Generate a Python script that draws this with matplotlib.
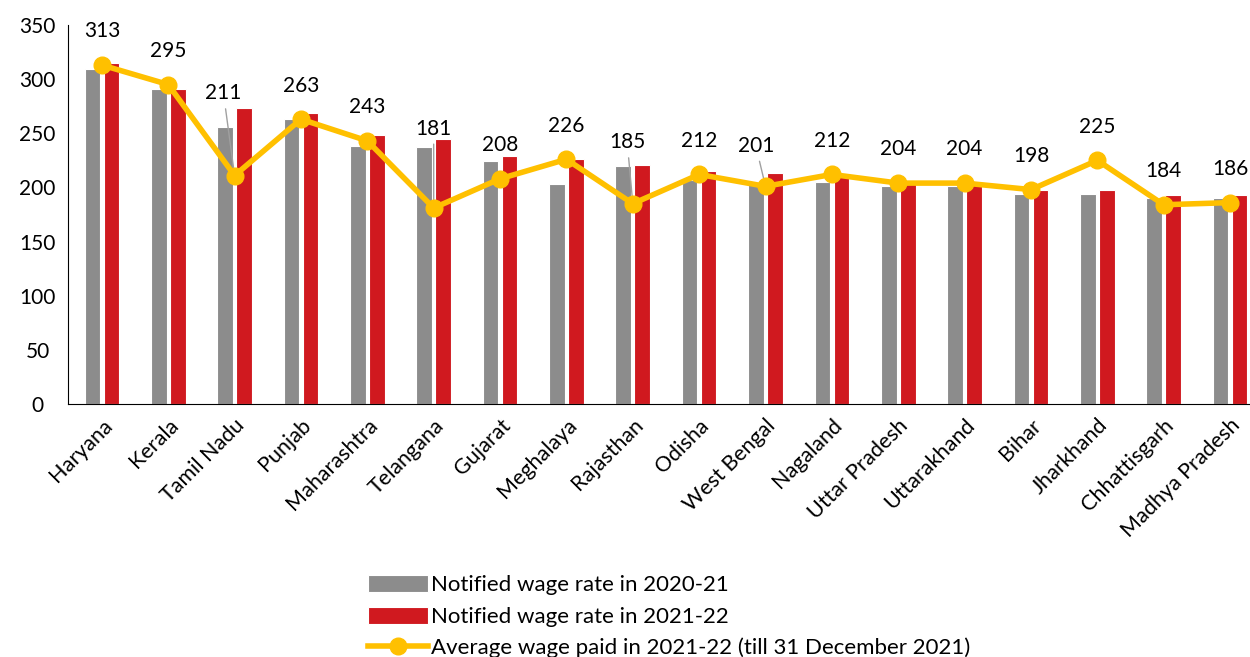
import matplotlib
matplotlib.use('Agg')
import matplotlib.pyplot as plt
import numpy as np

plt.rcParams['font.family'] = ['Lato', 'DejaVu Sans']

# Data
states = ['Haryana', 'Kerala', 'Tamil Nadu', 'Punjab', 'Maharashtra', 'Telangana',
          'Gujarat', 'Meghalaya', 'Rajasthan', 'Odisha', 'West Bengal', 'Nagaland',
          'Uttar Pradesh', 'Uttarakhand', 'Bihar', 'Jharkhand', 'Chhattisgarh',
          'Madhya Pradesh']
rate_2020_21 = [309, 291, 256, 263, 238, 237, 224, 203, 220, 207, 204, 205, 201, 201,
                194, 194, 190, 190]
rate_2021_22 = [315, 291, 273, 269, 248, 245, 229, 226, 221, 215, 213, 212, 204, 204,
                198, 198, 193, 193]
avg_paid = [313, 295, 211, 263, 243, 181, 208, 226, 185, 212, 201, 212, 204, 204,
            198, 225, 184, 186]

# label offsets in points (style); leader lines where labels sit higher
label_dy = [17, 17, 52, 17, 17, 50, 17, 17, 37, 17, 22, 17, 17, 17, 17, 17, 17, 17]
label_dx = [0, 0, -8, 0, 0, 0, 0, 0, -4, 0, -7, 0, 0, 0, 0, 0, 0, 0]
leader = {'Tamil Nadu', 'Telangana', 'Rajasthan', 'West Bengal'}

GRAY = '#8C8C8C'
RED = '#D0191F'
GOLD = '#FFC000'

fig = plt.figure(figsize=(12.5, 6.57), dpi=100)
ax = fig.add_axes([0.0544, 0.385, 0.9456, 0.577])

x = np.arange(len(states))
w = 0.235
b1 = ax.bar(x - 0.143, rate_2020_21, w, color=GRAY, edgecolor='white', linewidth=0.8,
            label='Notified wage rate in 2020-21')
b2 = ax.bar(x + 0.143, rate_2021_22, w, color=RED, edgecolor='white', linewidth=0.8,
            label='Notified wage rate in 2021-22')
ln, = ax.plot(x, avg_paid, color=GOLD, linewidth=4, marker='o', markersize=12,
              label='Average wage paid in 2021-22 (till 31 December 2021)', zorder=4)

for i, (s, v) in enumerate(zip(states, avg_paid)):
    if s in leader:
        ax.annotate(str(v), xy=(i, v), xytext=(label_dx[i], label_dy[i]),
                    textcoords='offset points', ha='center', va='bottom', fontsize=15,
                    arrowprops=dict(arrowstyle='-', color='#A0A0A0', lw=1,
                                    shrinkA=2, shrinkB=0))
    else:
        ax.annotate(str(v), xy=(i, v), xytext=(label_dx[i], label_dy[i]),
                    textcoords='offset points', ha='center', va='bottom', fontsize=15)

ax.set_xlim(-0.51, len(states) - 0.7)
ax.set_ylim(0, 350)
ax.set_yticks(np.arange(0, 351, 50))
ax.set_xticks(x)
ax.set_xticklabels(states, rotation=45, ha='right', rotation_mode='anchor', fontsize=15.5)
ax.tick_params(axis='y', labelsize=15, length=0, pad=22)
ax.tick_params(axis='x', length=0, pad=8)
for lbl in ax.get_yticklabels():
    lbl.set_horizontalalignment('center')

ax.spines['top'].set_visible(False)
ax.spines['right'].set_visible(False)
ax.spines['left'].set_color('black')
ax.spines['bottom'].set_color('black')

fig.legend(handles=[b1, b2, ln], loc='upper left', bbox_to_anchor=(0.287, 0.138),
           frameon=False, fontsize=16, handlelength=2.7, handleheight=0.8,
           labelspacing=0.5, handletextpad=0.15, borderaxespad=0)

fig.savefig('out.png', dpi=100, facecolor='white')
